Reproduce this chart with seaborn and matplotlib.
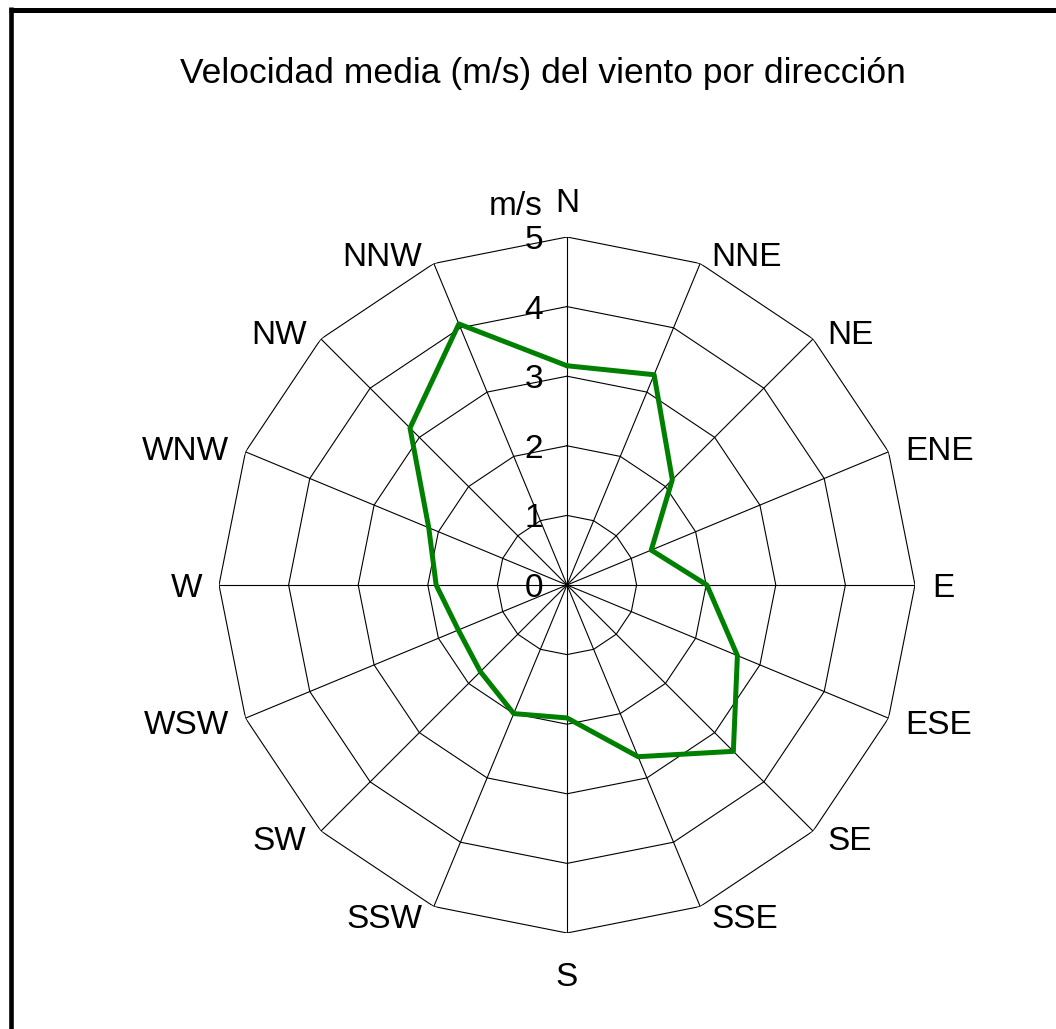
import matplotlib
matplotlib.use('Agg')
import matplotlib.pyplot as plt
import matplotlib.transforms as mtransforms
from matplotlib.lines import Line2D
import seaborn as sns
import numpy as np
import pandas as pd

sns.set_theme(style='white')
plt.rcParams['font.family'] = ['Liberation Sans', 'DejaVu Sans']

# datos
directions = ['N', 'NNE', 'NE', 'ENE', 'E', 'ESE', 'SE', 'SSE',
              'S', 'SSW', 'SW', 'WSW', 'W', 'WNW', 'NW', 'NNW']
speeds = [3.15, 3.27, 2.14, 1.31, 2.01, 2.65, 3.38, 2.67,
          1.91, 2.00, 1.76, 1.69, 1.88, 2.15, 3.19, 4.06]
levels = [0, 1, 2, 3, 4, 5]
title = 'Velocidad media (m/s) del viento por dirección'
unit = 'm/s'

W, H = 1056, 1029
fig = plt.figure(figsize=(W / 100, H / 100), dpi=100)
fig.patch.set_facecolor('white')

cx, cy, R = 567, 585, 348
ax = fig.add_axes([(cx - R) / W, (H - cy - R) / H, 2 * R / W, 2 * R / H], projection='polar')
ax.set_theta_zero_location('N')
ax.set_theta_direction(-1)
ax.set_ylim(0, max(levels))
ax.grid(False)
ax.spines['polar'].set_visible(False)
ax.set_xticks([])
ax.set_yticks([])
ax.set_facecolor('white')

theta = np.deg2rad(np.arange(len(directions)) * 360.0 / len(directions))
theta_closed = np.append(theta, 2 * np.pi)

# rejilla poligonal
for lv in levels[1:]:
    ax.plot(theta_closed, [lv] * len(theta_closed), color='black', lw=0.8, zorder=1)
for t in theta:
    ax.plot([t, t], [0, max(levels)], color='black', lw=0.8, zorder=1)

df = pd.DataFrame({'theta': theta_closed, 'speed': speeds + speeds[:1]})
sns.lineplot(data=df, x='theta', y='speed', sort=False, estimator=None,
             color='#008000', lw=3.6, ax=ax, zorder=3)
ax.set_xlabel('')
ax.set_ylabel('')

# etiquetas de dirección, colocadas al estilo Excel junto al extremo de cada radio
for t, name in zip(theta, directions):
    s, c = np.sin(t), np.cos(t)
    if abs(s) < 1e-6:
        ha = 'center'
        dx, dy = 0, (37 if c > 0 else -41)
    else:
        ha = 'left' if s > 0 else 'right'
        dx, dy = np.sign(s) * (8 + 9 * abs(s)), 10 * c
    tr = mtransforms.offset_copy(ax.transData, fig=fig, x=dx, y=dy, units='dots')
    ax.text(t, max(levels), name, transform=tr, ha=ha, va='center_baseline',
            fontsize=24, color='black', clip_on=False)

# etiquetas radiales
off = mtransforms.offset_copy(ax.transData, fig=fig, x=-24, y=0, units='dots')
for lv in levels:
    ax.text(0, lv, str(lv), transform=off, ha='right', va='center_baseline',
            fontsize=24, color='black', clip_on=False)
off_u = mtransforms.offset_copy(ax.transData, fig=fig, x=-24, y=34, units='dots')
ax.text(0, max(levels), unit, transform=off_u, ha='right', va='center_baseline',
        fontsize=24, color='black', clip_on=False)

fig.text(543 / W, 1 - 70 / H, title, ha='center', va='center_baseline',
         fontsize=25.5, color='black')

# borde superior e izquierdo
fig.add_artist(Line2D([9 / W, 1], [1 - 9.5 / H, 1 - 9.5 / H], transform=fig.transFigure,
                      color='black', lw=3.6, solid_capstyle='butt'))
fig.add_artist(Line2D([11 / W, 11 / W], [0, 1 - 7 / H], transform=fig.transFigure,
                      color='black', lw=3.3, solid_capstyle='butt'))

fig.savefig('out.png', dpi=100)
